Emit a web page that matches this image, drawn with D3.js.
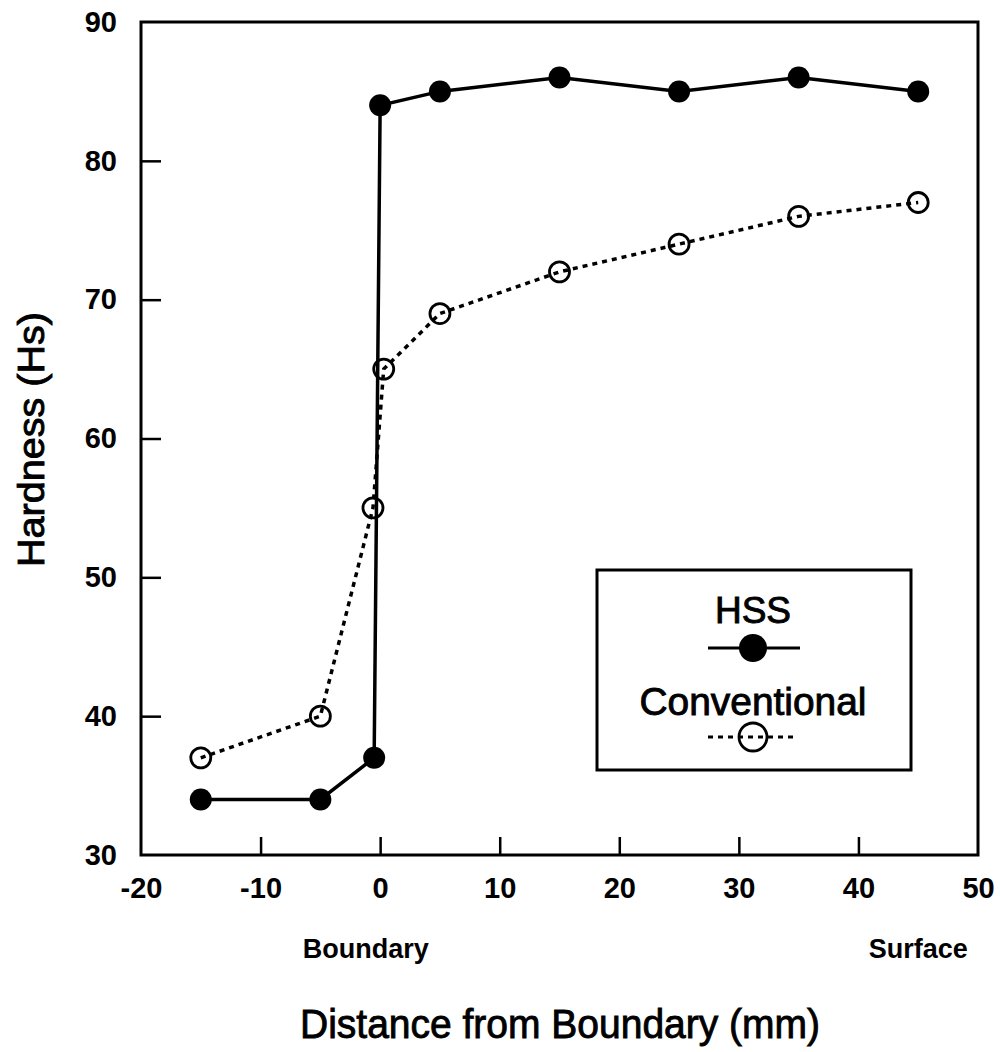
<!DOCTYPE html>
<html>
<head>
<meta charset="utf-8">
<script src="https://cdn.jsdelivr.net/npm/d3@7"></script>
<style>
  html, body { margin: 0; padding: 0; background: #fff; }
  svg { display: block; }
  text { font-family: "Liberation Sans", Arial, Helvetica, sans-serif; fill: #000; }
  .heavy { stroke: #000; stroke-width: 0.9px; }
</style>
</head>
<body>
<script>
// ---- data ----
const hssX = [-15, -5, -0.5, 0, 5, 15, 25, 35, 45];
const hssY = [34, 34, 37, 84, 85, 86, 85, 86, 85];
const convX = [-15, -5, -0.6, 0.3, 5, 15, 25, 35, 45];
const convY = [37, 40, 55, 65, 69, 72, 74, 76, 77];
const xTicks = [-20, -10, 0, 10, 20, 30, 40, 50];
const yTicks = [30, 40, 50, 60, 70, 80, 90];
const seriesNames = ["HSS", "Conventional"];
const xTitle = "Distance from Boundary (mm)";
const yTitle = "Hardness (Hs)";
const xNotes = [{x: -1.2, label: "Boundary"}, {x: 45, label: "Surface"}];

// ---- layout ----
const W = 1000, H = 1052;
const pL = 141, pR = 978, pT = 22, pB = 855;

const svg = d3.select("body").append("svg").attr("width", W).attr("height", H);

const x = d3.scaleLinear().domain([-20, 50]).range([pL, pR]);
const y = d3.scaleLinear().domain([30, 90]).range([pB, pT]);

// frame
svg.append("rect")
  .attr("x", pL).attr("y", pT)
  .attr("width", pR - pL).attr("height", pB - pT)
  .attr("fill", "none").attr("stroke", "#000").attr("stroke-width", 3);

const fmt = d => String(d);

// axes
const xAxis = d3.axisBottom(x).tickValues(xTicks).tickSizeInner(-18).tickSizeOuter(0).tickPadding(22)
  .tickFormat(fmt);
const gx = svg.append("g").attr("transform", `translate(0,${pB})`).call(xAxis);
gx.select(".domain").remove();
gx.selectAll(".tick line").attr("stroke", "#000").attr("stroke-width", 2.5)
  .filter(d => d === -20 || d === 50).remove();
gx.selectAll(".tick text").style("font-size", "29px").style("font-weight", "bold")
  .attr("font-family", null).attr("fill", "#000");

const yAxis = d3.axisLeft(y).tickValues(yTicks).tickSizeInner(-20).tickSizeOuter(0).tickPadding(24)
  .tickFormat(fmt);
const gy = svg.append("g").attr("transform", `translate(${pL},0)`).call(yAxis);
gy.select(".domain").remove();
gy.selectAll(".tick line").attr("stroke", "#000").attr("stroke-width", 2.5)
  .filter(d => d === 30 || d === 90).remove();
gy.selectAll(".tick text").style("font-size", "29px").style("font-weight", "bold")
  .attr("font-family", null).attr("fill", "#000");

// notes under axis
svg.selectAll("text.note").data(xNotes).enter().append("text")
  .attr("class", "note")
  .attr("x", d => x(d.x)).attr("y", 958)
  .attr("text-anchor", "middle")
  .style("font-size", "27px").style("font-weight", "bold")
  .text(d => d.label);

// axis titles
svg.append("text")
  .attr("class", "heavy")
  .attr("x", (300 + 820) / 2).attr("y", 1038)
  .attr("text-anchor", "middle")
  .attr("textLength", 520).attr("lengthAdjust", "spacingAndGlyphs")
  .style("font-size", "41px")
  .text(xTitle);

svg.append("text")
  .attr("class", "heavy")
  .attr("transform", `translate(44,${(312 + 567) / 2}) rotate(-90)`)
  .attr("text-anchor", "middle")
  .attr("textLength", 255).attr("lengthAdjust", "spacingAndGlyphs")
  .style("font-size", "37px")
  .text(yTitle);

// lines
const hss = hssX.map((v, i) => [v, hssY[i]]);
const conv = convX.map((v, i) => [v, convY[i]]);
const line = d3.line().x(d => x(d[0])).y(d => y(d[1]));

svg.append("path").datum(conv).attr("d", line)
  .attr("fill", "none").attr("stroke", "#000").attr("stroke-width", 3.5)
  .attr("stroke-dasharray", "5,5");

svg.append("path").datum(hss).attr("d", line)
  .attr("fill", "none").attr("stroke", "#000").attr("stroke-width", 3.5);

// markers
svg.selectAll("circle.conv").data(conv).enter().append("circle")
  .attr("class", "conv")
  .attr("cx", d => x(d[0])).attr("cy", d => y(d[1])).attr("r", 10)
  .attr("fill", "none").attr("stroke", "#000").attr("stroke-width", 2.8);

svg.selectAll("circle.hss").data(hss).enter().append("circle")
  .attr("class", "hss")
  .attr("cx", d => x(d[0])).attr("cy", d => y(d[1])).attr("r", 11)
  .attr("fill", "#000");

// legend
const lg = svg.append("g");
lg.append("rect").attr("x", 597).attr("y", 570).attr("width", 314).attr("height", 200)
  .attr("fill", "none").attr("stroke", "#000").attr("stroke-width", 3);
lg.append("text").attr("class", "heavy").attr("x", 753).attr("y", 623).attr("text-anchor", "middle")
  .style("font-size", "37px").text(seriesNames[0]);
lg.append("line").attr("x1", 708).attr("x2", 800).attr("y1", 648).attr("y2", 648)
  .attr("stroke", "#000").attr("stroke-width", 3);
lg.append("circle").attr("cx", 753).attr("cy", 648).attr("r", 14).attr("fill", "#000");
lg.append("text").attr("class", "heavy").attr("x", 753).attr("y", 715).attr("text-anchor", "middle")
  .attr("textLength", 227).attr("lengthAdjust", "spacingAndGlyphs")
  .style("font-size", "38px").text(seriesNames[1]);
lg.append("line").attr("x1", 708).attr("x2", 793).attr("y1", 737).attr("y2", 737)
  .attr("stroke", "#000").attr("stroke-width", 3).attr("stroke-dasharray", "5,5");
lg.append("circle").attr("cx", 753).attr("cy", 737).attr("r", 14)
  .attr("fill", "none").attr("stroke", "#000").attr("stroke-width", 2.8);
</script>
</body>
</html>
